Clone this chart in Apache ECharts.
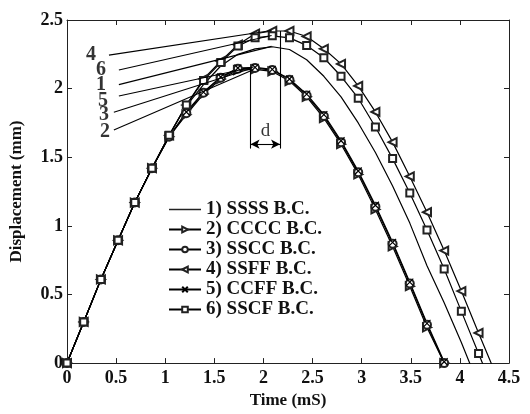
<!DOCTYPE html>
<html>
<head>
<meta charset="utf-8">
<script src="https://cdn.jsdelivr.net/npm/echarts@6/dist/echarts.min.js"></script>
<style>html,body{margin:0;padding:0;background:#fff}#c{width:530px;height:414px}</style>
</head>
<body>
<div id="c"></div>
<script>
// time of each sample (ms)
const time = [0, 0.17, 0.345, 0.52, 0.69, 0.865, 1.04, 1.215, 1.39, 1.565, 1.74, 1.915, 2.09, 2.265, 2.44, 2.615, 2.79, 2.965, 3.14, 3.315, 3.49, 3.665, 3.84, 4.015, 4.19, 4.365];
const names = ['1) SSSS B.C.', '2) CCCC B.C.', '3) SSCC B.C.', '4) SSFF B.C.', '5) CCFF B.C.', '6) SSCF B.C.'];
const ssss = [0, 0.30, 0.61, 0.895, 1.17, 1.42, 1.66, 1.875, 2.03, 2.165, 2.25, 2.29, 2.305, 2.285, 2.21, 2.09, 1.94, 1.75, 1.535, 1.29, 1.02, 0.71, 0.44, 0.15, -0.16];
const cccc = [0, 0.30, 0.61, 0.895, 1.17, 1.42, 1.65, 1.81, 1.96, 2.07, 2.135, 2.14, 2.125, 2.055, 1.94, 1.785, 1.595, 1.375, 1.12, 0.85, 0.56, 0.26, 0];
const sscc = [0, 0.30, 0.61, 0.895, 1.17, 1.42, 1.65, 1.82, 1.97, 2.08, 2.145, 2.15, 2.135, 2.065, 1.95, 1.80, 1.61, 1.39, 1.14, 0.87, 0.58, 0.28, 0];
const ssff = [0, 0.30, 0.61, 0.895, 1.17, 1.42, 1.66, 1.88, 2.07, 2.20, 2.32, 2.40, 2.42, 2.42, 2.38, 2.29, 2.18, 2.02, 1.83, 1.61, 1.36, 1.10, 0.82, 0.525, 0.22, -0.08];
const ccff = [0, 0.30, 0.61, 0.895, 1.17, 1.42, 1.65, 1.83, 1.975, 2.085, 2.15, 2.155, 2.14, 2.07, 1.96, 1.81, 1.62, 1.40, 1.15, 0.88, 0.59, 0.29, 0.01];
const sscf = [0, 0.30, 0.61, 0.895, 1.17, 1.42, 1.66, 1.88, 2.06, 2.19, 2.31, 2.37, 2.385, 2.37, 2.315, 2.225, 2.09, 1.93, 1.72, 1.49, 1.24, 0.97, 0.685, 0.377, 0.07, -0.24];
const xTicks = [0, 4.5, 0.5];
const yTicks = [0, 2.5, 0.5];
// curve callouts: label, label position, leader start, leader end (data coords)
const callLabels = ['4', '6', '1', '5', '3', '2'];
const callText = [[0.245, 2.244], [0.345, 2.136], [0.345, 2.029], [0.366, 1.914], [0.376, 1.806], [0.386, 1.685]];
const callFrom = [[0.427, 2.244], [0.528, 2.136], [0.528, 2.029], [0.528, 1.946], [0.477, 1.828], [0.477, 1.699]];
const callTo = [[2.083, 2.423], [2.083, 2.387], [2.083, 2.308], [1.90, 2.158], [1.859, 2.143], [1.89, 2.136]];
// "d" marker
const dLeft = [[1.869, 2.15], [1.869, 1.563]];
const dRight = [[2.169, 2.42], [2.169, 1.563]];
const dArrow = [[1.869, 1.595], [2.169, 1.595]];
const dText = [2.02, 1.69];

const FONT = '"Liberation Serif", "Times New Roman", serif';
const pair = arr => arr.map((v, i) => [time[i], v]);
const lineW = 1.2;
const mk = (name, arr, symbol, rot, extra) => Object.assign({
  name, type: 'line', data: pair(arr), symbol: symbol, symbolSize: 8, symbolRotate: rot || 0,
  showSymbol: true, showAllSymbol: true, smooth: false, clip: true,
  lineStyle: {color: '#000', width: lineW},
  itemStyle: {color: '#222', borderWidth: 1},
  emphasis: {disabled: true}, z: 3
}, extra || {});

const xPath = 'path://M0,0L10,10M10,0L0,10';
const series = [
  mk(names[0], ssss, 'none'),
  mk(names[1], cccc, 'emptyTriangle', -90),
  mk(names[2], sscc, 'emptyCircle'),
  mk(names[3], ssff, 'emptyTriangle', 90),
  mk(names[4], ccff, xPath, 0, {itemStyle: {color: '#000', borderColor: '#000', borderWidth: 1.2}, symbolSize: 7}),
  mk(names[5], sscf, 'emptyRect', 0, {symbolSize: 7})
];
const lineSeg = (a, b) => [{coord: a}, {coord: b}];
const segs = callLabels.map((l, i) => lineSeg(callFrom[i], callTo[i]));
segs.push(lineSeg(dLeft[0], dLeft[1]), lineSeg(dRight[0], dRight[1]));
const noteData = callLabels.map((l, i) => ({name: l, value: callText[i]}));
noteData.push({name: 'd', value: dText, label: {fontWeight: 'normal', fontSize: 19}});
series.push({
  type: 'scatter', name: 'notes', silent: true, symbolSize: 1, itemStyle: {color: 'rgba(0,0,0,0)'},
  data: noteData,
  label: {show: true, position: 'inside', formatter: '{b}', color: '#000', fontFamily: FONT, fontSize: 20, fontWeight: 'bold'},
  markLine: {silent: true, symbol: 'none', label: {show: false}, lineStyle: {color: '#000', width: 1.1, type: 'solid'},
    data: segs, animation: false},
  z: 4
});
series.push({
  type: 'line', name: 'arrow', data: [], silent: true,
  markLine: {silent: true, symbol: ['arrow', 'arrow'], symbolSize: [7, 9], label: {show: false},
    lineStyle: {color: '#000', width: 1.1, type: 'solid'}, data: [lineSeg(dArrow[0], dArrow[1])], animation: false}
});

const axisCommon = {
  axisLine: {show: true, onZero: false, lineStyle: {color: '#222', width: 1}},
  axisTick: {show: true, inside: true, length: 5, lineStyle: {color: '#222'}},
  splitLine: {show: false}
};
const legendData = names.map((n, i) => i === 0 ? {name: n, icon: 'path://M0,0L32,0L32,1.5L0,1.5Z'} : {name: n});
const chart = echarts.init(document.getElementById('c'), null, {renderer: 'canvas'});
chart.setOption({
  animation: false,
  backgroundColor: '#fff',
  grid: {left: 66, right: 21, top: 20, bottom: 44},
  legend: {
    data: legendData, orient: 'vertical', left: 163, top: 195, itemWidth: 32, itemHeight: 7, itemGap: 1,
    textStyle: {fontFamily: FONT, fontSize: 19, fontWeight: 'bold', color: '#111'},
    selectedMode: false
  },
  xAxis: [
    Object.assign({type: 'value', min: xTicks[0], max: xTicks[1], interval: xTicks[2],
      name: 'Time (mS)', nameLocation: 'middle', nameGap: 24,
      nameTextStyle: {fontFamily: FONT, fontSize: 17, fontWeight: 'bold', color: '#111'},
      axisLabel: {fontFamily: FONT, fontSize: 18, fontWeight: 'bold', color: '#111', margin: 6}}, axisCommon),
    Object.assign({type: 'value', position: 'top', min: xTicks[0], max: xTicks[1], interval: xTicks[2],
      axisLabel: {show: false}}, axisCommon)
  ],
  yAxis: [
    Object.assign({type: 'value', min: yTicks[0], max: yTicks[1], interval: yTicks[2],
      name: 'Displacement (mm)', nameLocation: 'middle', nameGap: 42,
      nameTextStyle: {fontFamily: FONT, fontSize: 17, fontWeight: 'bold', color: '#111'},
      axisLabel: {fontFamily: FONT, fontSize: 18, fontWeight: 'bold', color: '#111', margin: 4}}, axisCommon),
    Object.assign({type: 'value', position: 'right', min: yTicks[0], max: yTicks[1], interval: yTicks[2],
      axisLabel: {show: false}}, axisCommon)
  ],
  series: series
});
</script>
</body>
</html>
